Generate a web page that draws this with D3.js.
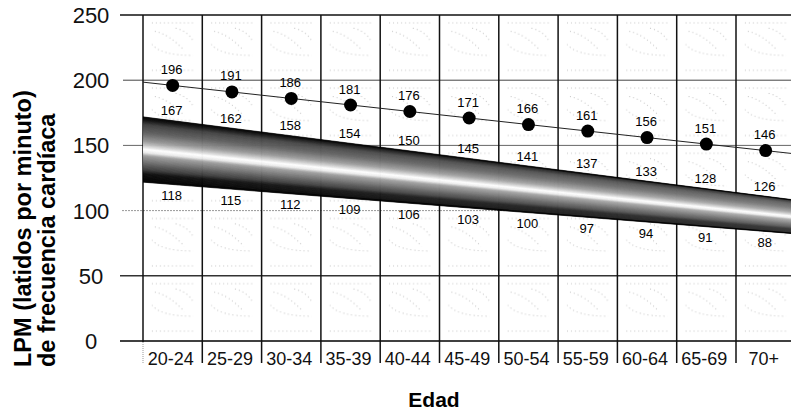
<!DOCTYPE html>
<html><head><meta charset="utf-8">
<script src="https://cdn.jsdelivr.net/npm/d3@7"></script>
<style>
html,body{margin:0;padding:0;background:#fff;}
svg{display:block;font-family:"Liberation Sans",Arial,Helvetica,sans-serif;}
</style></head>
<body>
<svg id="chart" width="791" height="411"></svg>
<script>
const categories = ["20-24","25-29","30-34","35-39","40-44","45-49","50-54","55-59","60-64","65-69","70+"];
const maxHR = [196,191,186,181,176,171,166,161,156,151,146];
const upperZone = [167,162,158,154,150,145,141,137,133,128,126];
const lowerZone = [118,115,112,109,106,103,100,97,94,91,88];
const yTicks = [0,50,100,150,200,250];
// band edges (bpm) read at first and last category centre
const bandUpperEnds = [169,111];
const bandLowerEnds = [120,84];

(function(){
const W = 791, H = 411;
const svg = d3.select("#chart");
const pL = 143, pT = 15, pB = 341;
const x = d3.scaleBand().domain(categories).range([pL, pL + 59.3*categories.length]).padding(0);
const y = d3.scaleLinear().domain([0,250]).range([pB, pT]);
const bw = x.bandwidth();
const xc = c => x(c) + bw/2;
const x0 = xc(categories[0]), x1 = xc(categories[categories.length-1]);
const bandUp = d3.scaleLinear().domain([x0,x1]).range(bandUpperEnds);
const bandLo = d3.scaleLinear().domain([x0,x1]).range(bandLowerEnds);
const maxLine = d3.scaleLinear().domain([x0,x1]).range([maxHR[0], maxHR[maxHR.length-1]]);

const defs = svg.append("defs");
const cellH = y(0) - y(50);
const pat = defs.append("pattern").attr("id","stip").attr("patternUnits","userSpaceOnUse")
  .attr("x",pL).attr("y",pT).attr("width",bw).attr("height",cellH);
const sp = [
  `M${bw*0.15},${cellH*0.12} L${bw*0.85},${cellH*0.12}`,
  `M${bw*0.2},${cellH*0.25} Q${bw*0.45},${cellH*0.3} ${bw*0.7},${cellH*0.55}`,
  `M${bw*0.15},${cellH*0.45} Q${bw*0.3},${cellH*0.62} ${bw*0.85},${cellH*0.62}`,
  `M${bw*0.15},${cellH*0.85} L${bw*0.85},${cellH*0.85}`,
  `M${bw*0.55},${cellH*0.2} Q${bw*0.75},${cellH*0.25} ${bw*0.85},${cellH*0.4}`
];
sp.forEach(d => pat.append("path").attr("d",d).attr("fill","none")
  .attr("stroke","#c4c4c4").attr("stroke-width",1).attr("stroke-dasharray","1 3"));
defs.append("clipPath").attr("id","plotclip").append("rect")
  .attr("x",pL).attr("y",pT).attr("width",W-pL).attr("height",pB-pT);

svg.append("rect").attr("x",pL).attr("y",pT).attr("width",W-pL).attr("height",pB-pT)
  .attr("fill","url(#stip)");

const gridStyle = {0:["#000",1.6,pL-23],50:["#333",1.4,pL-23],100:["#999",1,pL-21],150:["#666",1,pL-20],200:["#444",1,pL-20],250:["#111",1.6,pL-23]};
svg.append("g").selectAll("line").data(yTicks).join("line")
  .attr("x1",d=>gridStyle[d][2]).attr("x2",W)
  .attr("y1",d=>y(d)).attr("y2",d=>y(d))
  .attr("stroke",d=>gridStyle[d][0]).attr("stroke-width",d=>gridStyle[d][1])
  .attr("stroke-dasharray",d=>d===100?"2 1":null);

svg.append("g").selectAll("line").data(categories).join("line")
  .attr("x1",d=>x(d)).attr("x2",d=>x(d))
  .attr("y1",pT).attr("y2",pB+22)
  .attr("stroke","#111").attr("stroke-width",1.5);
svg.append("line").attr("x1",pL).attr("x2",pL).attr("y1",pB+1).attr("y2",pB+22)
  .attr("stroke","#fff").attr("stroke-width",2);
svg.append("line").attr("x1",pL).attr("x2",pL).attr("y1",pB+1).attr("y2",pB+22)
  .attr("stroke","#999").attr("stroke-width",1).attr("stroke-dasharray","1 1");

const stops = [0,0.05,0.12,0.25,0.38,0.46,0.5,0.55,0.6,0.72,0.82,0.88,1];
const greys = [0,0.06,0.25,0.38,0.6,0.85,1,0.92,0.62,0.4,0.22,0.05,0];
const shade = d3.scaleLinear().domain(stops).range(greys).clamp(true);
const N = 90;
const gBand = svg.append("g").attr("clip-path","url(#plotclip)");
const xa = pL, xb = W;
const edge = (xx,t) => y(bandUp(xx) + t*(bandLo(xx)-bandUp(xx)));
d3.range(N).forEach(i => {
  const ta = i/N, tb = (i+1)/N;
  const g = Math.round(255*shade((ta+tb)/2));
  const col = `rgb(${g},${g},${g})`;
  gBand.append("path")
    .attr("d",`M${xa},${edge(xa,ta)}L${xb},${edge(xb,ta)}L${xb},${edge(xb,tb)}L${xa},${edge(xa,tb)}Z`)
    .attr("fill",col).attr("stroke",col).attr("stroke-width",0.6);
});
const lg = defs.append("linearGradient").attr("id","fade").attr("gradientUnits","userSpaceOnUse")
  .attr("x1",pL).attr("x2",W).attr("y1",0).attr("y2",0);
lg.append("stop").attr("offset",0).attr("stop-color","#fff").attr("stop-opacity",0);
lg.append("stop").attr("offset",1).attr("stop-color","#fff").attr("stop-opacity",0.2);
gBand.append("path")
  .attr("d",`M${xa},${edge(xa,0.03)}L${xb},${edge(xb,0.03)}L${xb},${edge(xb,0.97)}L${xa},${edge(xa,0.97)}Z`)
  .attr("fill","url(#fade)");

const gMax = svg.append("g").attr("clip-path","url(#plotclip)");
gMax.append("line").attr("x1",pL).attr("x2",W)
  .attr("y1",y(maxLine(pL))).attr("y2",y(maxLine(W)))
  .attr("stroke","#222").attr("stroke-width",1);
gMax.selectAll("circle").data(maxHR).join("circle")
  .attr("cx",(d,i)=>xc(categories[i])).attr("cy",d=>y(d)).attr("r",6.5).attr("fill","#000");

const lab = svg.append("g").attr("font-size",13).attr("fill","#000").attr("text-anchor","middle");
lab.selectAll("text.mx").data(maxHR).join("text").attr("class","mx")
  .attr("x",(d,i)=>xc(categories[i])-1).attr("y",d=>y(d)-16).attr("dy","0.35em").text(d=>d);
lab.selectAll("text.up").data(upperZone).join("text").attr("class","up")
  .attr("x",(d,i)=>xc(categories[i])-1).attr("y",(d,i)=>y(bandUp(xc(categories[i])))-10).attr("dy","0.35em").text(d=>d);
lab.selectAll("text.lo").data(lowerZone).join("text").attr("class","lo")
  .attr("x",(d,i)=>xc(categories[i])-1).attr("y",(d,i)=>y(bandLo(xc(categories[i])))+11).attr("dy","0.35em").text(d=>d);

svg.append("g").selectAll("text").data(yTicks).join("text")
  .attr("x",91).attr("y",d=>y(d)+8).attr("text-anchor","middle")
  .attr("font-size",22).attr("fill","#111").text(d=>d);

svg.append("g").selectAll("text").data(categories).join("text")
  .attr("x",d=>xc(d)-2).attr("y",pB+24).attr("text-anchor","middle")
  .attr("font-size",18).attr("fill","#111").text(d=>d);

svg.append("text").attr("x",434).attr("y",407).attr("text-anchor","middle")
  .attr("font-size",21).attr("font-weight","bold").text("Edad");
const yt = svg.append("text").attr("transform","rotate(-90)").attr("font-size",23.5)
  .attr("font-weight","bold").attr("text-anchor","start");
yt.append("tspan").attr("x",-367).attr("y",31).text("LPM (latidos por minuto)");
yt.append("tspan").attr("x",-367).attr("y",55).text("de frecuencia cardíaca");
})();
</script>
</body></html>
